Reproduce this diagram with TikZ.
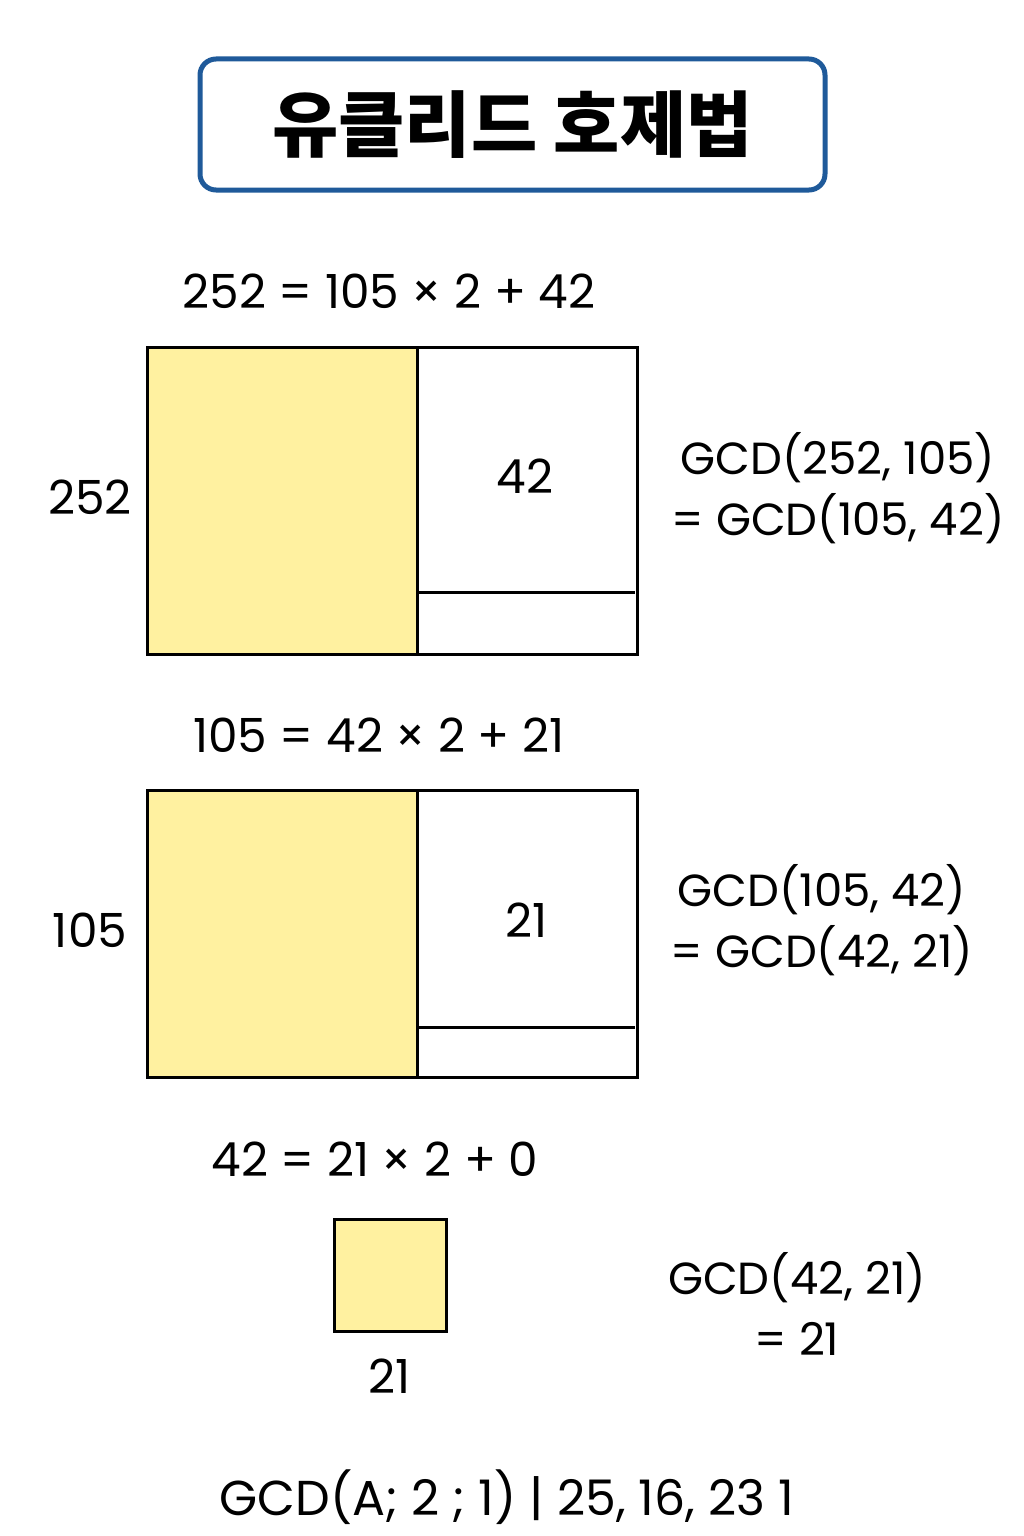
\documentclass[tikz,border=0pt]{standalone}
\usepackage{fontspec}
\usetikzlibrary{positioning}
\setmainfont{Poppins}
\newfontfamily\krfont{Noto Sans CJK KR}
\definecolor{boxyellow}{HTML}{FFF1A0}
\definecolor{titleblue}{HTML}{1F5A9A}
\begin{document}
\begin{tikzpicture}[
        x = 1pt, y = -1pt,
        outer sep = 0mm, inner sep = 0mm,
        sq/.style = {
          rectangle, draw = black, line width = 3pt, fill = boxyellow,
          anchor = north west,
        },
        rest/.style = {
          rectangle, draw = black, line width = 3pt, fill = white,
          anchor = north west,
        },
        txt/.style = {font = \fontsize{47}{61}\selectfont, align = center},
        gcd/.style = {font = \fontsize{45}{61}\selectfont, align = center},
      ]

      \useasboundingbox (0,0) rectangle (1024,1536);

      % title
      \node[draw = titleblue, line width = 5pt, rounded corners = 16pt,
        minimum width = 625, minimum height = 131,
        font = \krfont\bfseries\fontsize{72}{76}\selectfont] (T) at (512.5,124.5) {유클리드 호제법};

      % 252 and 105
      \node[txt] (E1) at (389,291) {252 = 105 × 2 + 42};
      \node[sq, minimum width = 270, minimum height = 307] (Y1) at (147,347) {};
      \node[rest, minimum width = 220, minimum height = 307] (R1) at (Y1.north east) {};
      \draw[line width = 3pt] (R1.south west) ++(0,-62) to ++(218,0);
      \node[txt] (L1) at (525,476) {42};
      \node[txt] (S1) at (90,497) {252};
      \node[gcd] (G1) at (838,488) {GCD(252, 105)\\= GCD(105, 42)};

      % 105 and 42
      \node[txt] (E2) at (379,735) {105 = 42 × 2 + 21};
      \node[sq, minimum width = 270, minimum height = 287] (Y2) at (147,790) {};
      \node[rest, minimum width = 220, minimum height = 287] (R2) at (Y2.north east) {};
      \draw[line width = 3pt] (R2.south west) ++(0,-50) to ++(218,0);
      \node[txt] (L2) at (527,920) {21};
      \node[txt] (S2) at (90,930) {105};
      \node[gcd] (G2) at (822,920) {GCD(105, 42)\\= GCD(42, 21)};

      % 42 and 21
      \node[txt] (E3) at (375,1159) {42 = 21 × 2 + 0};
      \node[sq, minimum size = 112] (Y3) at (334,1219) {};
      \node[txt, below = 28pt of Y3] (S3) {21};
      \node[gcd] (G3) at (797,1304) {GCD(42, 21)\\= 21};

      \node[txt, font = \fontsize{49}{53}\selectfont] (B) at (507,1497) {GCD(A;\ 2 ; 1) | 25, 16, 23 1};
    \end{tikzpicture}
\end{document}
